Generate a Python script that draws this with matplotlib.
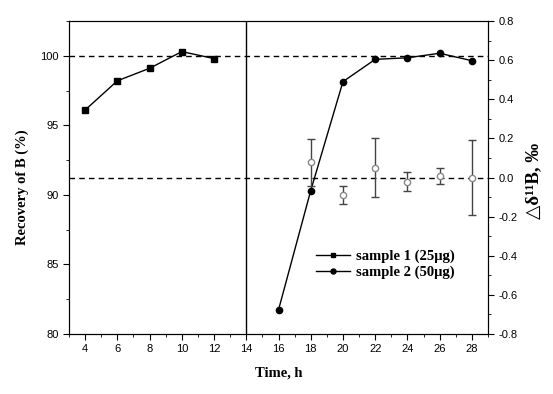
import matplotlib
matplotlib.use("Agg")
import matplotlib.pyplot as plt
from matplotlib.ticker import MultipleLocator

# sample 1: recovery of B (%), left axis
t1 = [4, 6, 8, 10, 12]
rec1 = [96.1, 98.2, 99.1, 100.3, 99.8]

# sample 2: recovery shown on right axis scale
t2 = [16, 18, 20, 22, 24, 26, 28]
d2 = [-0.677, -0.067, 0.49, 0.604, 0.612, 0.635, 0.597]

# delta 11B with error bars (open circles)
t3 = [18, 20, 22, 24, 26, 28]
d3 = [0.079, -0.089, 0.05, -0.021, 0.009, 0.0]
err3 = [0.12, 0.048, 0.15, 0.048, 0.04, 0.19]

plt.rcParams['font.family'] = ['Liberation Sans', 'DejaVu Sans']
serif = ['Liberation Serif', 'DejaVu Serif']

fig = plt.figure(figsize=(5.53, 3.94), dpi=100)
ax = fig.add_axes([69/553, 1-334/394, 419/553, 313/394])
ax2 = ax.twinx()

ax.set_xlim(3, 29)
ax.set_ylim(80, 102.5)
ax2.set_ylim(-0.8, 0.8)

ax.axhline(100, color='k', ls=(0, (4, 3)), lw=1)
ax2.axhline(0.0, color='k', ls=(0, (4, 3)), lw=1)
ax.axvline(14, color='k', lw=1)

l1, = ax.plot(t1, rec1, 's-', color='k', ms=4.2, lw=1, label='sample 1 (25μg)')
l2, = ax2.plot(t2, d2, 'o-', color='k', ms=4.5, lw=1, label='sample 2 (50μg)')
ax2.errorbar(t3, d3, yerr=err3, fmt='o', mfc='white', mec='#888888', ms=4.5,
             ecolor='#444444', elinewidth=1, capsize=3, capthick=1)

ax.xaxis.set_major_locator(MultipleLocator(2))
ax.xaxis.set_minor_locator(MultipleLocator(1))
ax.yaxis.set_major_locator(MultipleLocator(5))
ax.yaxis.set_minor_locator(MultipleLocator(2.5))
ax2.yaxis.set_major_locator(MultipleLocator(0.2))
ax2.yaxis.set_minor_locator(MultipleLocator(0.1))
ax2.set_yticks(ax2.get_yticks())
ax2.set_yticklabels(['%.1f' % v for v in ax2.get_yticks()])
ax2.set_ylim(-0.8, 0.8)

for a in (ax, ax2):
    a.tick_params(which='major', direction='out', length=4, labelsize=8)
    a.tick_params(which='minor', direction='out', length=2)
ax.tick_params(top=False, which='both')

ax.set_xlabel('Time, h', family=serif, fontweight='bold', fontsize=10.5)
ax.xaxis.set_label_coords(0.5, -0.105)
ax.set_ylabel('Recovery of B (%)', family=serif, fontweight='bold', fontsize=10.5)
ax.yaxis.set_label_coords(-0.095, 0.47)
ax2.set_ylabel('△δ¹¹B, ‰', family=serif, fontweight='bold', fontsize=13.5)
ax2.yaxis.set_label_coords(1.088, 0.49)

ax2.legend(handles=[l1, l2], loc='center', bbox_to_anchor=(0.755, 0.222),
           frameon=False, prop={'family': serif, 'weight': 'bold', 'size': 10.5},
           markerscale=0.8, handlelength=2.3, handletextpad=0.4, labelspacing=0.15)

fig.savefig('out.png', dpi=100)
